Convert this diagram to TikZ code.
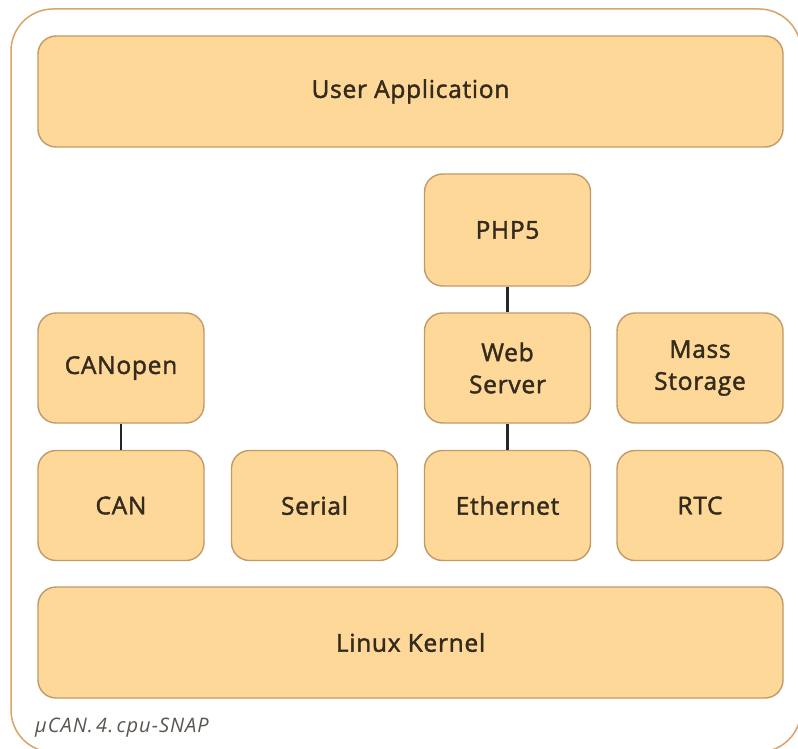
\documentclass[tikz,border=0pt]{standalone}
\usepackage{fontspec}
\setmainfont{Open Sans}[FakeBold=1.8, LetterSpace=3]
\newfontfamily\capfont{Open Sans}[LetterSpace=5]
\definecolor{boxfill}{HTML}{FDD898}
\definecolor{boxline}{HTML}{C29A68}
\definecolor{frameline}{HTML}{D9A468}
\definecolor{txt}{HTML}{352B1C}
\definecolor{captxt}{HTML}{5A5550}
\tikzset{
  blk/.style={draw=boxline, line width=1.4pt, fill=boxfill, rounded corners=18pt,
    minimum width=166pt, minimum height=110pt, inner sep=0pt, align=center,
    text=txt, font=\fontsize{24.5}{32}\selectfont},
  link/.style={draw=black!85, line width=2.6pt},
  outerframe/.style={draw=frameline, line width=1.5pt, rounded corners=42pt}
}
\begin{document}
\begin{tikzpicture}[x=1pt,y=-1pt]
\useasboundingbox (0,0) rectangle (798,749);
\fill[white] (0,0) rectangle (798,749);
\draw[outerframe] (11,9) rectangle (801,752);
\node[blk, minimum width=745pt, minimum height=111pt] (ua) at (410.5,91.5) {User Application};
\node[blk, minimum height=112pt] (php) at (507.5,230) {PHP5};
\node[blk] (canopen) at (121,368) {CANopen};
\node[blk] (web) at (507.5,368) {Web\\Server};
\node[blk] (mass) at (700,368) {Mass\\Storage};
\node[blk] (can) at (121,505.5) {CAN};
\node[blk] (serial) at (314.5,505.5) {Serial};
\node[blk] (eth) at (507.5,505.5) {Ethernet};
\node[blk] (rtc) at (700,505.5) {RTC};
\node[blk, minimum width=745pt, minimum height=111pt] (lk) at (410.5,642.5) {Linux Kernel};
\draw[link] (php) -- (web);
\draw[link] (web) -- (eth);
\draw[link] (canopen) -- (can);
\node[anchor=base west, inner sep=0pt, text=captxt, font=\capfont\fontsize{20}{22}\selectfont\itshape] (cap) at (35,732) {µCAN.\,4.\,cpu-SNAP};
\end{tikzpicture}
\end{document}
